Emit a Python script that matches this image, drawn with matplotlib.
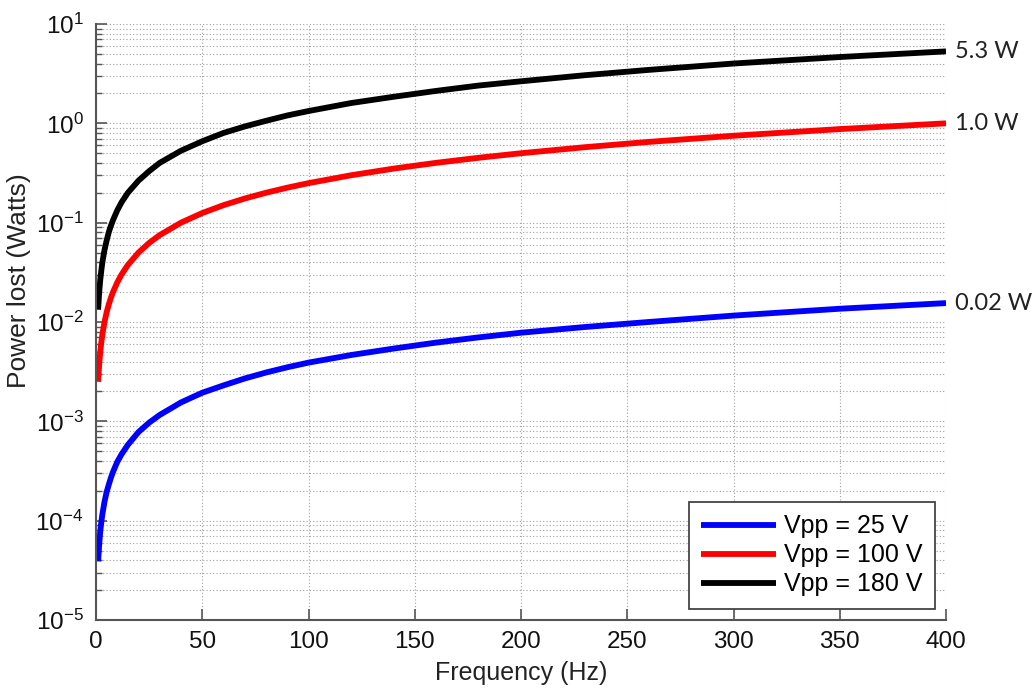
import matplotlib
matplotlib.use("Agg")
import matplotlib.pyplot as plt
from matplotlib.ticker import LogLocator, NullFormatter, MultipleLocator

plt.rcParams['font.family'] = ['Liberation Sans', 'DejaVu Sans']
plt.rcParams['mathtext.default'] = 'regular'

freq = [1, 1.5, 2, 2.5, 3, 4, 5, 6, 7, 8, 10, 12, 15, 20, 25, 30, 40, 50, 60, 70, 80, 90,
        100, 120, 140, 160, 180, 200, 230, 260, 300, 350, 400]
p_25 = [3.9e-5, 5.8e-5, 7.8e-5, 9.7e-5, 1.16e-4, 1.55e-4, 1.94e-4, 2.3e-4, 2.7e-4, 3.1e-4,
        3.9e-4, 4.65e-4, 5.8e-4, 7.8e-4, 9.7e-4, 1.16e-3, 1.55e-3, 1.94e-3, 2.3e-3, 2.7e-3,
        3.1e-3, 3.5e-3, 3.9e-3, 4.65e-3, 5.4e-3, 6.2e-3, 7.0e-3, 7.8e-3, 8.9e-3, 1.0e-2,
        1.16e-2, 1.36e-2, 1.55e-2]
p_100 = [2.5e-3, 3.75e-3, 5e-3, 6.25e-3, 7.5e-3, 1e-2, 1.25e-2, 1.5e-2, 1.75e-2, 2e-2,
         2.5e-2, 3e-2, 3.75e-2, 5e-2, 6.25e-2, 7.5e-2, 0.1, 0.125, 0.15, 0.175, 0.2, 0.225,
         0.25, 0.3, 0.35, 0.4, 0.45, 0.5, 0.575, 0.65, 0.75, 0.875, 1.0]
p_180 = [1.33e-2, 2.0e-2, 2.65e-2, 3.3e-2, 4.0e-2, 5.3e-2, 6.6e-2, 8.0e-2, 9.3e-2, 0.106,
         0.133, 0.16, 0.2, 0.265, 0.33, 0.4, 0.53, 0.66, 0.8, 0.93, 1.06, 1.2, 1.33, 1.6,
         1.85, 2.12, 2.4, 2.65, 3.05, 3.45, 4.0, 4.65, 5.3]
series_labels = ['Vpp = 25 V', 'Vpp = 100 V', 'Vpp = 180 V']
end_labels = ['0.02 W', '1.0 W', '5.3 W']
colors = ['#0000ff', '#ff0000', '#000000']

fig = plt.figure(figsize=(10.36, 6.88), dpi=100)
ax = fig.add_axes([96/1036, 1-620/688, 850/1036, 596/688])

for y, lab, c in zip([p_25, p_100, p_180], series_labels, colors):
    ax.plot(freq, y, color=c, lw=4.2, label=lab, solid_capstyle='butt',
            solid_joinstyle='round')

ax.set_yscale('log')
ax.set_xlim(0, 400)
ax.set_ylim(1e-5, 1e1)
ax.xaxis.set_major_locator(MultipleLocator(50))
ax.yaxis.set_major_locator(LogLocator(base=10, numticks=20))
ax.yaxis.set_minor_locator(LogLocator(base=10, subs=range(2, 10), numticks=100))
ax.yaxis.set_minor_formatter(NullFormatter())

ax.grid(True, which='major', axis='both', ls=(0, (1, 2)), color='#a0a0a0', lw=0.8)
ax.grid(True, which='minor', axis='y', ls=(0, (1, 2)), color='#a0a0a0', lw=0.8)

for s in ['top', 'right']:
    ax.spines[s].set_visible(False)
for s in ['left', 'bottom']:
    ax.spines[s].set_color('#555555')
    ax.spines[s].set_linewidth(1.5)

ax.tick_params(which='both', direction='in', colors='#555555', labelcolor='#111111',
               labelsize=17.5, top=False, right=False)
ax.tick_params(which='major', length=8, width=1.2)
ax.tick_params(which='minor', length=4, width=1.0)
ax.tick_params(axis='y', pad=9)
ax.tick_params(axis='x', pad=8)

ax.set_xlabel('Frequency (Hz)', fontsize=18, color='#222222', labelpad=6)
ax.set_ylabel('Power lost (Watts)', fontsize=19, color='#222222')
ax.yaxis.set_label_coords(-0.076, 0.57)

for y, txt in zip([p_25, p_100, p_180], end_labels):
    ax.annotate(txt, xy=(freq[-1], y[-1]), xytext=(6.5, 0), textcoords='offset points',
                va='center', ha='left', fontsize=17, family=['Lato', 'DejaVu Sans'],
                color='#222222', annotation_clip=False)

leg = ax.legend(loc='lower right', bbox_to_anchor=(1.0, 0.0), fontsize=18,
                frameon=True, fancybox=False, framealpha=1, edgecolor='#444444',
                handlelength=3.0, handletextpad=0.3, borderpad=0.5, labelspacing=0.2,
                borderaxespad=0.45)
leg.get_frame().set_linewidth(1.3)

fig.savefig('out.png', dpi=100)
